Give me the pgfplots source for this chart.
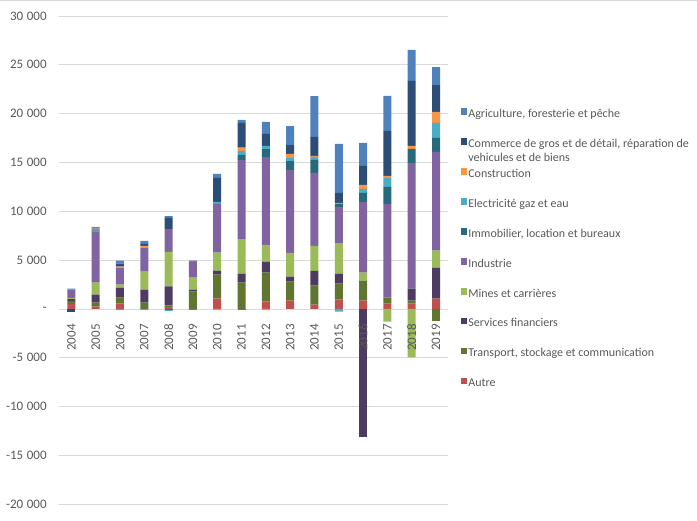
\documentclass[border=0pt]{standalone}
\usepackage{pgfplots}
\pgfplotsset{compat=1.18}
\usepackage{pgfplotstable}
\usepackage{fontspec}
\setmainfont{Carlito}
\definecolor{txt}{HTML}{595959}
\definecolor{gridc}{HTML}{D9D9D9}
\definecolor{cAgri}{HTML}{4F81BD}
\definecolor{cComm}{HTML}{2C4D75}
\definecolor{cCons}{HTML}{F79646}
\definecolor{cElec}{HTML}{4BACC6}
\definecolor{cImmo}{HTML}{276A7C}
\definecolor{cIndu}{HTML}{8064A2}
\definecolor{cMine}{HTML}{9BBB59}
\definecolor{cServ}{HTML}{4D3B62}
\definecolor{cTran}{HTML}{5F7530}
\definecolor{cAutr}{HTML}{C0504D}
\newcommand\lab{\fontsize{12}{14.4}\selectfont}
\newcommand\tlab{\fontsize{13}{15}\selectfont}
\newcommand\tsp{\hspace{0.28em}}

\pgfplotstableread{
x  Autre Transport Services Mines Industrie Immobilier Electricite Construction Commerce Agriculture
0  500   300   200   130   850    0     0     0     0     100
1  240   400   820   1230  5250   100   140   50    100   70
2  580   580   1020  310   1740   0     0     100   310   310
3  0     650   1330  1840  2450   0     0     200   200   310
4  200   170   1940  3540  2350   0     0     0     1120  200
5  0     1770  200   1230  1640   0     0     0     100   0
6  1060  2450  410   1840  5010   0     200   0     2450  410
7  0     2690  920   3480  8180   510   410   340   2520  310
8  780   2930  1120  1740  8990   820   310   0     1230  1230
9  850   1940  510   2450  8480   920   310   410   920   1940
10 440   1940  1530  2560  7460   1330  310   100   1940  4190
11 950   1640  1020  3070  3780   310   0     100   1020  5010
12 850   2040  0     820   7260   920   410   410   1940  2350
13 550   610   0     0     9610   1740  920   200   4600  3580
14 550   310   1230  0     12880  1430  0     310   6640  3170
15 1060  0     3170  1740  10120  1430  1530  1120  2760  1840
}\postab

\pgfplotstableread{
x  Autre Transport Services Mines Immobilier Electricite Construction Commerce Agriculture
0  0     0     0       0     0     0     0     -270  0
1  0     0     0       0     0     0     0     0     0
2  0     0     0       0     0     -130  0     0     0
3  0     0     0       0     0     -130  0     0     0
4  0     0     0       0     -120  -100  0     0     0
5  0     0     0       0     0     0     0     0     -130
6  0     0     0       0     0     0     -130  0     0
7  -130  0     0       0     0     0     0     0     0
8  0     0     0       0     0     0     -130  0     0
9  0     0     0       0     0     0     0     0     0
10 0     0     0       0     0     0     0     0     0
11 0     0     0       0     0     -270  0     0     0
12 0     0     -13120  0     0     0     0     0     0
13 0     0     0       -1300 0     0     0     0     0
14 0     0     0       -4950 0     0     0     0     0
15 0     -1200 0       0     0     0     0     0     0
}\negtab

\pgfplotsset{
  common/.style={
    scale only axis, width=389pt, height=488.3pt,
    at={(59.2pt,16.7pt)}, anchor=south west,
    xmin=-0.5, xmax=15.5, ymin=-20000, ymax=30000,
    ybar stacked, bar width=8pt,
    axis line style={draw=none},
    major tick length=0pt,
    scaled ticks=false,
    tick label style={font=\tlab, text=txt},
  },
}

\begin{document}
\begin{tikzpicture}
\useasboundingbox (0,0) rectangle (697pt,521pt);
\draw[gridc, line width=0.8pt] (0,520.6pt) -- (697pt,520.6pt);
\begin{axis}[common,
  ymajorgrids, grid style={gridc, line width=0.8pt},
  ytick={-20000,-15000,-10000,-5000,0,5000,10000,15000,20000,25000,30000},
  yticklabels={{-20\tsp000},{-15\tsp000},{-10\tsp000},{-5\tsp000},{-},{5\tsp000},{10\tsp000},{15\tsp000},{20\tsp000},{25\tsp000},{30\tsp000}},
  yticklabel shift=9pt,
  xtick=\empty,
  reverse legend,
  legend cell align=left,
  legend image code/.code={\fill[#1] (0pt,0pt) rectangle (6.7pt,6.7pt);},
  legend style={at={(1.032,0.8106)}, anchor=north west, draw=none, fill=none,
    inner sep=0pt, outer sep=0pt, row sep=16.7pt,
    font=\lab, text=txt,
    nodes={inner sep=1pt, text height=8pt, text depth=3pt},
    /tikz/every even column/.append style={column sep=0pt}},
]
\addplot[fill=cAutr, draw=none] table[x=x,y=Autre]{\postab};
\addlegendentry{Autre}
\addplot[fill=cTran, draw=none] table[x=x,y=Transport]{\postab};
\addlegendentry{Transport, stockage et communication}
\addplot[fill=cServ, draw=none] table[x=x,y=Services]{\postab};
\addlegendentry{Services financiers}
\addplot[fill=cMine, draw=none] table[x=x,y=Mines]{\postab};
\addlegendentry{Mines et carrières}
\addplot[fill=cIndu, draw=none] table[x=x,y=Industrie]{\postab};
\addlegendentry{Industrie}
\addplot[fill=cImmo, draw=none] table[x=x,y=Immobilier]{\postab};
\addlegendentry{Immobilier, location et bureaux}
\addplot[fill=cElec, draw=none] table[x=x,y=Electricite]{\postab};
\addlegendentry{Electricité gaz et eau}
\addplot[fill=cCons, draw=none] table[x=x,y=Construction]{\postab};
\addlegendentry{Construction}
\addplot[fill=cComm, draw=none] table[x=x,y=Commerce]{\postab};
\addlegendentry{\begin{tabular}[t]{@{}l@{}}Commerce de gros et de détail, réparation de\\vehicules et de biens\end{tabular}}
\addplot[fill=cAgri, draw=none] table[x=x,y=Agriculture]{\postab};
\addlegendentry{Agriculture, foresterie et pêche}
\end{axis}
\begin{axis}[common, axis on top,
  ytick=\empty,
  xtick={0,...,15},
  xticklabels={2004,2005,2006,2007,2008,2009,2010,2011,2012,2013,2014,2015,2016,2017,2018,2019},
  xticklabel pos=lower,
  xticklabel style={rotate=90, anchor=east},
  xticklabel shift=-183.5pt,
]
\addplot[fill=cAutr, draw=none] table[x=x,y=Autre]{\negtab};
\addplot[fill=cTran, draw=none] table[x=x,y=Transport]{\negtab};
\addplot[fill=cServ, draw=none] table[x=x,y=Services]{\negtab};
\addplot[fill=cMine, draw=none] table[x=x,y=Mines]{\negtab};
\addplot[fill=cImmo, draw=none] table[x=x,y=Immobilier]{\negtab};
\addplot[fill=cElec, draw=none] table[x=x,y=Electricite]{\negtab};
\addplot[fill=cCons, draw=none] table[x=x,y=Construction]{\negtab};
\addplot[fill=cComm, draw=none] table[x=x,y=Commerce]{\negtab};
\addplot[fill=cAgri, draw=none] table[x=x,y=Agriculture]{\negtab};
\end{axis}
\end{tikzpicture}
\end{document}
